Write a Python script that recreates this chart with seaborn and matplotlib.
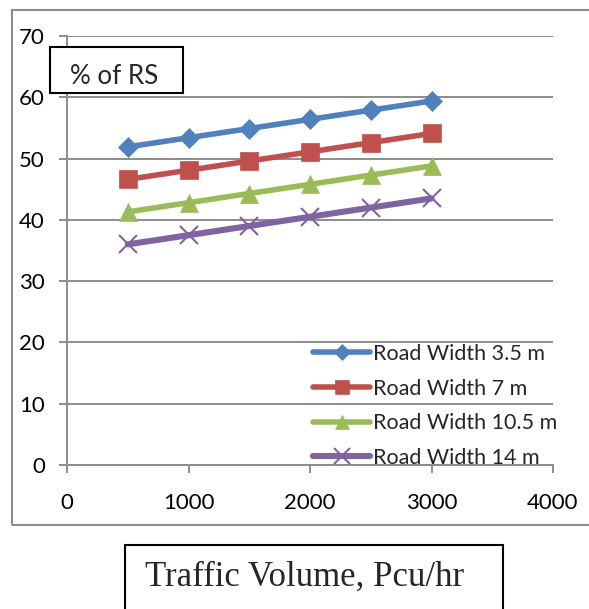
import matplotlib
matplotlib.use("Agg")
import matplotlib.pyplot as plt
import seaborn as sns
import pandas as pd
from matplotlib.patches import Rectangle

traffic_volume = [500, 1000, 1500, 2000, 2500, 3000]
rs_3_5 = [51.9, 53.4, 54.9, 56.4, 57.9, 59.4]
rs_7 = [46.6, 48.1, 49.6, 51.1, 52.6, 54.1]
rs_10_5 = [41.3, 42.8, 44.3, 45.8, 47.3, 48.8]
rs_14 = [36.0, 37.5, 39.0, 40.5, 42.0, 43.5]
series_names = ["Road Width 3.5 m", "Road Width 7 m", "Road Width 10.5 m", "Road Width 14 m"]
series_values = [rs_3_5, rs_7, rs_10_5, rs_14]
x_ticks = [0, 1000, 2000, 3000, 4000]
y_ticks = [0, 10, 20, 30, 40, 50, 60, 70]

colors = ["#4F81BD", "#C0504D", "#9BBB59", "#8064A2"]
markers = ["D", "s", "^", "x"]
msizes = [10.5, 12.5, 12.5, 13]

sns.set_theme(style="white")
plt.rcParams["font.family"] = ["Lato", "DejaVu Sans"]

W, H = 589, 609
fig = plt.figure(figsize=(W / 100, H / 100), dpi=100)
ax = fig.add_axes([67 / W, (H - 465) / H, (553 - 67) / W, (465 - 36) / H])

for name, vals, c, m, ms in zip(series_names, series_values, colors, markers, msizes):
    df = pd.DataFrame({"x": traffic_volume, "y": vals})
    sns.lineplot(data=df, x="x", y="y", ax=ax, color=c, marker=m, markersize=ms,
                 linewidth=4.0 if m != "x" else 4.4, markeredgecolor=c,
                 markeredgewidth=1.5 if m == "x" else 0.5,
                 label=name, clip_on=False)

ax.set_xlim(0, 4000)
ax.set_ylim(0, 70)
ax.set_xticks(x_ticks)
ax.set_yticks(y_ticks)
ax.set_xlabel("")
ax.set_ylabel("")
ax.grid(axis="y", color="#8c8c8c", linewidth=1.4)
ax.set_axisbelow(True)
for s in ["top", "right"]:
    ax.spines[s].set_visible(False)
for s in ["left", "bottom"]:
    ax.spines[s].set_color("#8c8c8c")
    ax.spines[s].set_linewidth(1.4)
ax.tick_params(axis="both", which="major", direction="out", length=6, width=1.4,
               color="#8c8c8c", labelsize=16, labelcolor="black")
ax.tick_params(axis="x", pad=14, bottom=True)
ax.tick_params(axis="y", pad=10, left=True)

leg = ax.legend(loc="upper left", bbox_to_anchor=(313 / W, (H - 344) / H),
                bbox_transform=fig.transFigure, frameon=False, fontsize=15.5,
                handlelength=2.65, handletextpad=0.14, labelspacing=0.68,
                borderaxespad=0, borderpad=0)
for h, ms in zip(leg.legend_handles, [8.5, 10.5, 10.5, 11]):
    h.set_markersize(ms)

# "% of RS" box
fig.add_artist(Rectangle((50 / W, (H - 93) / H), (183 - 50) / W, (93 - 47) / H,
                         transform=fig.transFigure, fill=True, facecolor="white",
                         edgecolor="black", linewidth=1.5, zorder=5))
fig.text(70 / W, (H - 76) / H, "% of RS", fontsize=18.7, va="center", ha="left", zorder=6)

# outer chart border
fig.add_artist(Rectangle((12 / W, (H - 525) / H), (W + 10 - 12) / W, (525 - 10) / H,
                         transform=fig.transFigure, fill=False,
                         edgecolor="#8c8c8c", linewidth=1.5, zorder=0))

# x-axis title box
fig.add_artist(Rectangle((125 / W, -10 / H), (503 - 125) / W, (H - 545 + 10) / H,
                         transform=fig.transFigure, fill=False,
                         edgecolor="black", linewidth=1.5))
fig.text(145 / W, (H - 586) / H, "Traffic Volume, Pcu/hr", fontsize=25,
         family=["Liberation Serif", "DejaVu Serif"], va="baseline", ha="left")

fig.savefig("out.png", dpi=100)
